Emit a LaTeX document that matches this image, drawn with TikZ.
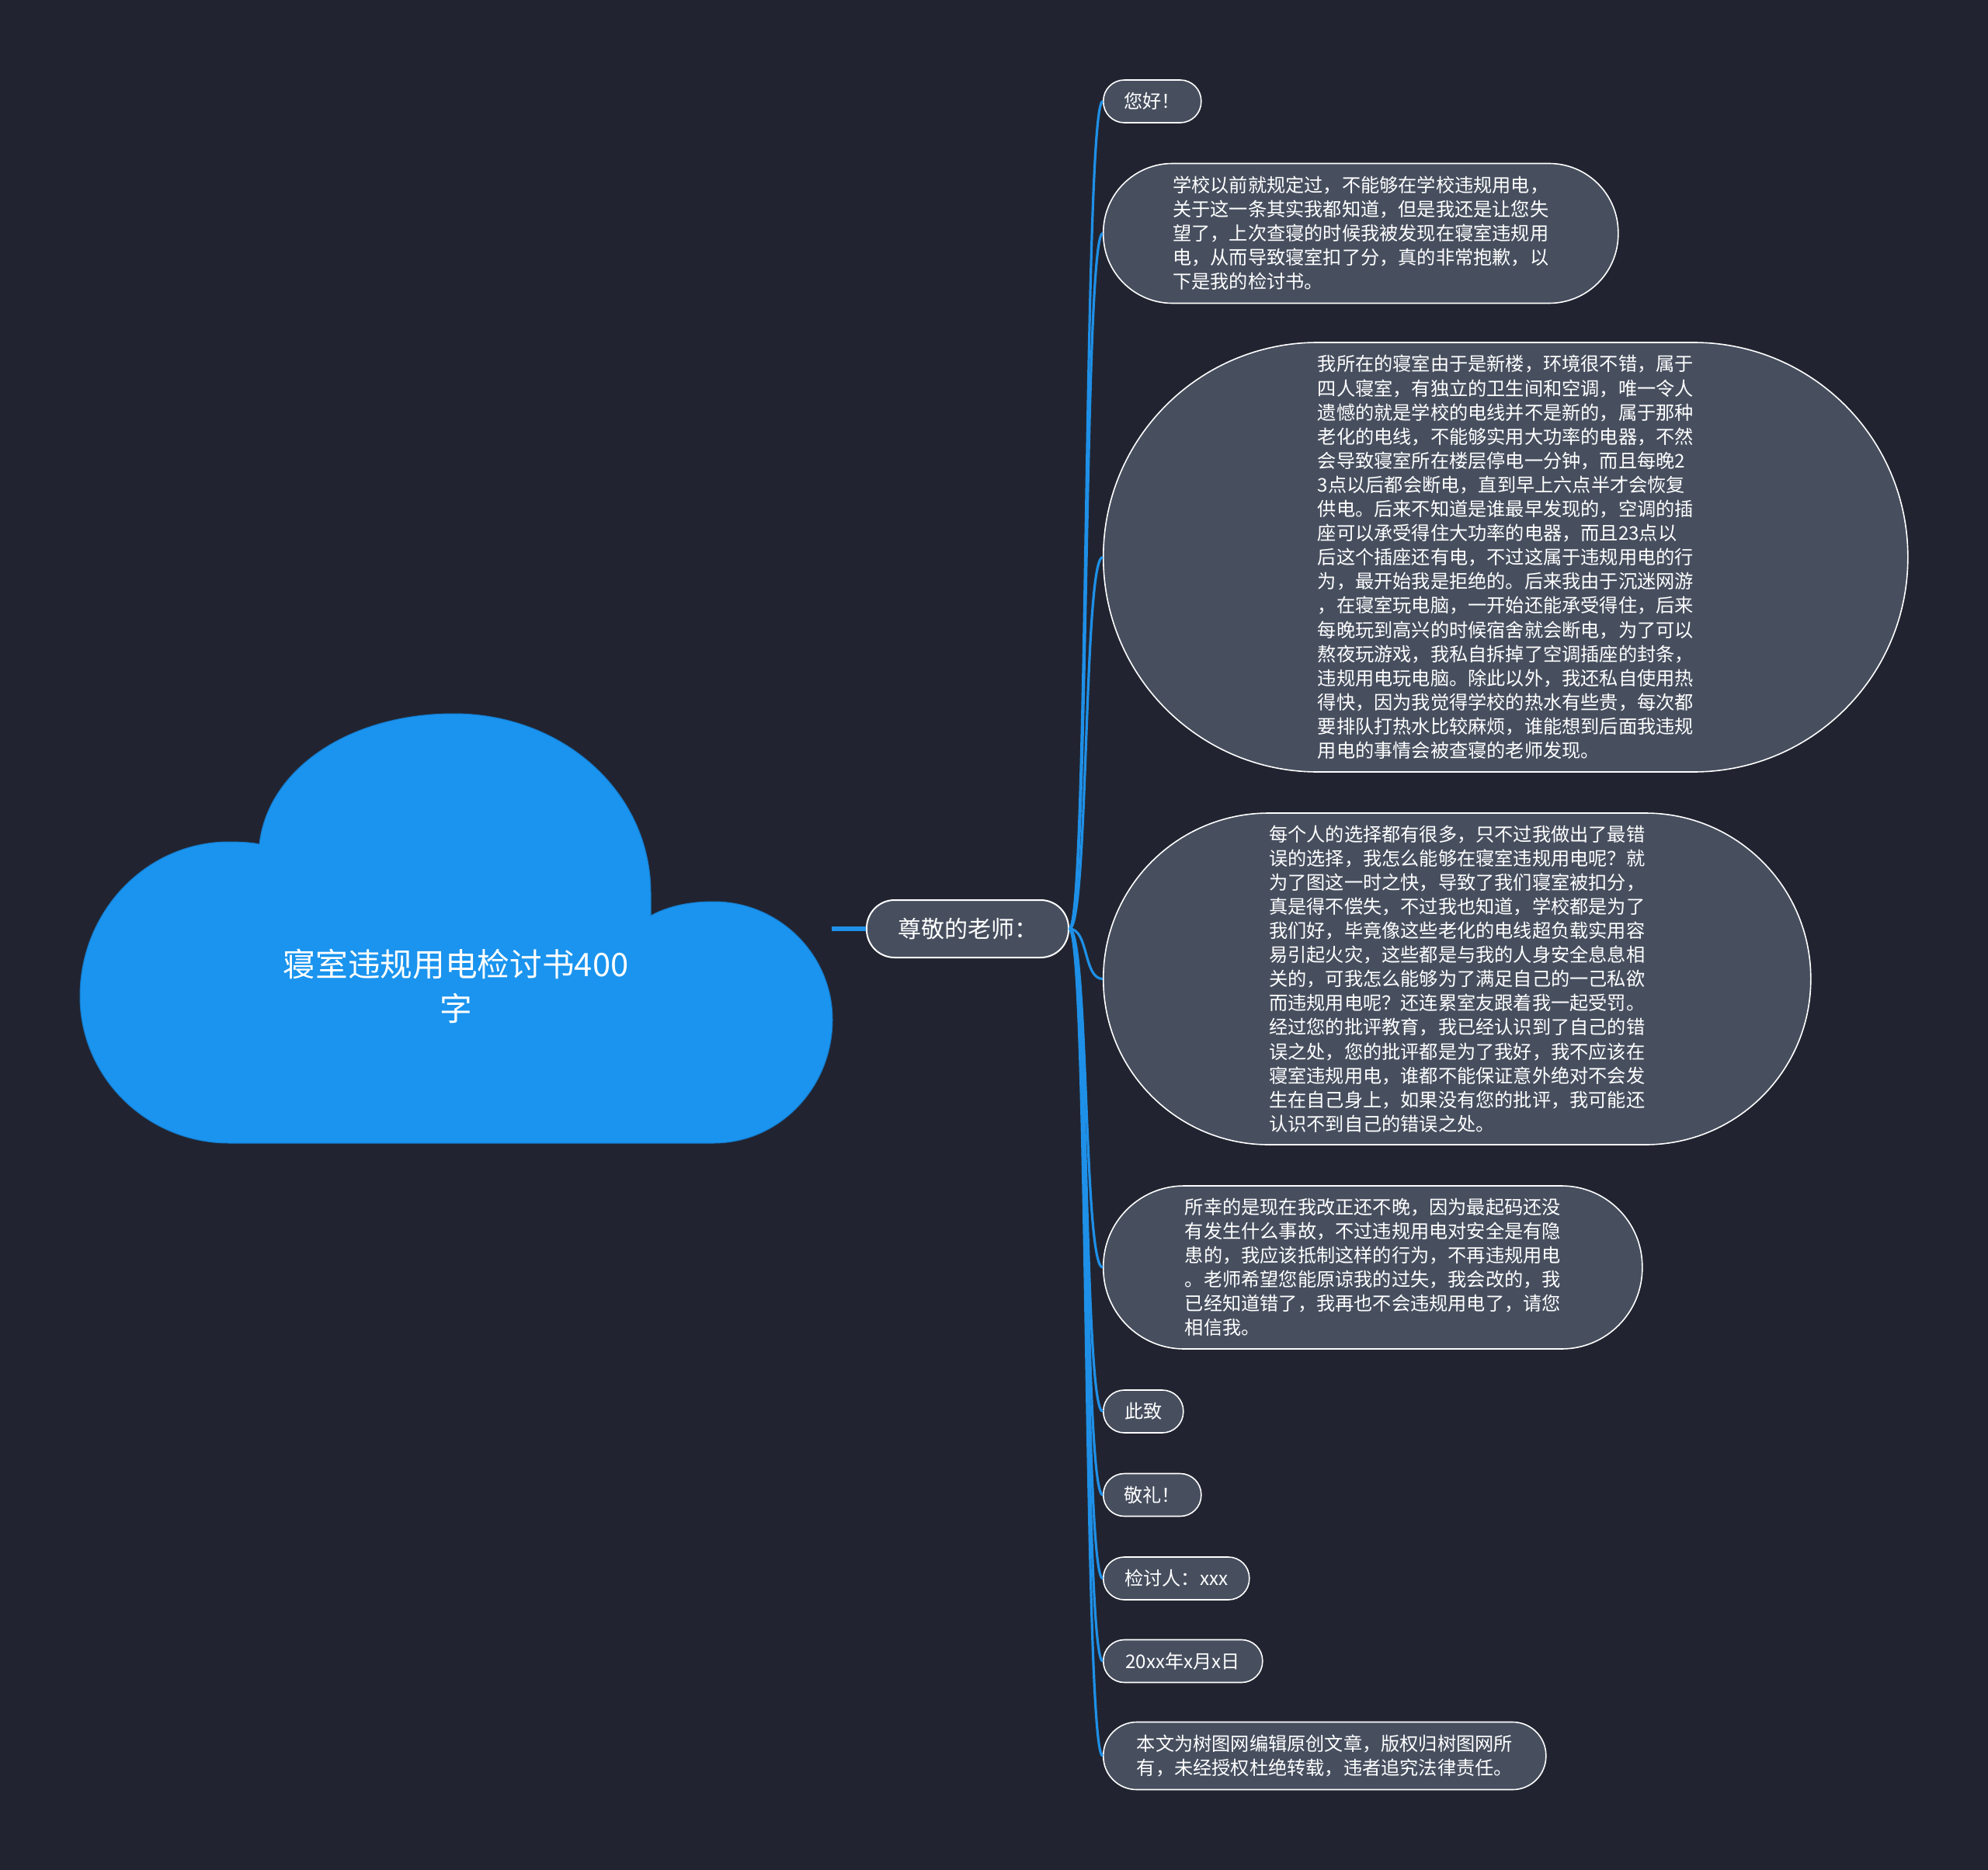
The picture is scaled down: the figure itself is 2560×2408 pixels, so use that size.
\documentclass[tikz,border=0pt]{standalone}
\usepackage{fontspec}
\setmainfont{Noto Sans CJK SC}
\usetikzlibrary{positioning}
\definecolor{bgdark}{RGB}{33,36,48}
\definecolor{cloudfill}{RGB}{26,148,238}
\definecolor{cloudline}{RGB}{22,120,200}
\definecolor{leaffill}{RGB}{71,79,95}
\definecolor{linkblue}{RGB}{30,144,232}

\begin{document}
\begin{tikzpicture}[
  x=1pt, y=-1pt,
  hub/.style={draw=white, fill=leaffill, line width=2pt, text=white,
              rounded corners=36pt, minimum width=260pt, minimum height=74pt,
              inner sep=0pt, font=\fontsize{30}{36}\selectfont},
  leaf/.style n args={3}{draw=white, fill=leaffill, line width=1.6pt, text=white,
              align=left, anchor=west, inner sep=0pt,
              minimum width=#1, minimum height=#2, rounded corners=#3,
              font=\fontsize{24.2}{31.1}\selectfont},
  link/.style={draw=linkblue, line width=3.2pt},
  node distance=44pt,
]
\useasboundingbox (0,0) rectangle (2560,2408);
\fill[bgdark] (0,0) rectangle (2560,2408);

\filldraw[fill=cloudfill, draw=cloudline, line width=1pt]
  (295,1472) .. controls (189,1472) and (103,1387) .. (103,1283)
  .. controls (103,1173) and (189,1084) .. (295,1084)
  .. controls (310,1084) and (325,1085) .. (334,1087)
  .. controls (345,990) and (450,919) .. (584,919)
  .. controls (725,919) and (838,1020) .. (838,1150)
  -- (838,1179)
  .. controls (862,1166) and (890,1161) .. (919,1161)
  .. controls (1003,1161) and (1072,1229) .. (1072,1313)
  .. controls (1072,1401) and (1003,1472) .. (919,1472)
  -- cycle;
\node[text=white, align=center, font=\fontsize{41.7}{57}\selectfont] (title) at (587,1270)
  {寝室违规用电检讨书400\\字};

\coordinate (cloudR) at (1071,1196);
\node[hub, right=of cloudR, anchor=west] (hub) {尊敬的老师：};

\node[leaf={126pt}{55pt}{27pt}] (c1) at (1420,130.5) {您好！};
\node[leaf={663pt}{180pt}{89pt}] (c2) at (1420,300.5)
  {学校以前就规定过，不能够在学校违规用电，\\关于这一条其实我都知道，但是我还是让您失\\望了，上次查寝的时候我被发现在寝室违规用\\电，从而导致寝室扣了分，真的非常抱歉，以\\下是我的检讨书。};
\node[leaf={1036pt}{553pt}{276pt}] (c3) at (1420,717.5)
  {我所在的寝室由于是新楼，环境很不错，属于\\四人寝室，有独立的卫生间和空调，唯一令人\\遗憾的就是学校的电线并不是新的，属于那种\\老化的电线，不能够实用大功率的电器，不然\\会导致寝室所在楼层停电一分钟，而且每晚2\\3点以后都会断电，直到早上六点半才会恢复\\供电。后来不知道是谁最早发现的，空调的插\\座可以承受得住大功率的电器，而且23点以\\后这个插座还有电，不过这属于违规用电的行\\为，最开始我是拒绝的。后来我由于沉迷网游\\，在寝室玩电脑，一开始还能承受得住，后来\\每晚玩到高兴的时候宿舍就会断电，为了可以\\熬夜玩游戏，我私自拆掉了空调插座的封条，\\违规用电玩电脑。除此以外，我还私自使用热\\得快，因为我觉得学校的热水有些贵，每次都\\要排队打热水比较麻烦，谁能想到后面我违规\\用电的事情会被查寝的老师发现。};
\node[leaf={911pt}{427pt}{213pt}] (c4) at (1420,1260.5)
  {每个人的选择都有很多，只不过我做出了最错\\误的选择，我怎么能够在寝室违规用电呢？就\\为了图这一时之快，导致了我们寝室被扣分，\\真是得不偿失，不过我也知道，学校都是为了\\我们好，毕竟像这些老化的电线超负载实用容\\易引起火灾，这些都是与我的人身安全息息相\\关的，可我怎么能够为了满足自己的一己私欲\\而违规用电呢？还连累室友跟着我一起受罚。\\经过您的批评教育，我已经认识到了自己的错\\误之处，您的批评都是为了我好，我不应该在\\寝室违规用电，谁都不能保证意外绝对不会发\\生在自己身上，如果没有您的批评，我可能还\\认识不到自己的错误之处。};
\node[leaf={694pt}{210pt}{104pt}] (c5) at (1420,1632)
  {所幸的是现在我改正还不晚，因为最起码还没\\有发生什么事故，不过违规用电对安全是有隐\\患的，我应该抵制这样的行为，不再违规用电\\。老师希望您能原谅我的过失，我会改的，我\\已经知道错了，我再也不会违规用电了，请您\\相信我。};
\node[leaf={103pt}{55pt}{27pt}] (c6) at (1420,1817.5) {此致};
\node[leaf={126pt}{55pt}{27pt}] (c7) at (1420,1925) {敬礼！};
\node[leaf={188pt}{55pt}{27pt}] (c8) at (1420,2032.5) {检讨人：xxx};
\node[leaf={205pt}{55pt}{27pt}] (c9) at (1420,2139) {20xx年x月x日};
\node[leaf={570pt}{87pt}{43pt}] (c10) at (1420,2261)
  {本文为树图网编辑原创文章，版权归树图网所\\有，未经授权杜绝转载，违者追究法律责任。};

\draw[link, line width=6pt] (cloudR) -- (hub.west);
\foreach \c in {c1,c2,c3,c4,c5,c6,c7,c8,c9,c10}
  \draw[link] (hub.east) .. controls +(25,0) and +(-25,0) .. (\c.west);
\end{tikzpicture}
\end{document}
